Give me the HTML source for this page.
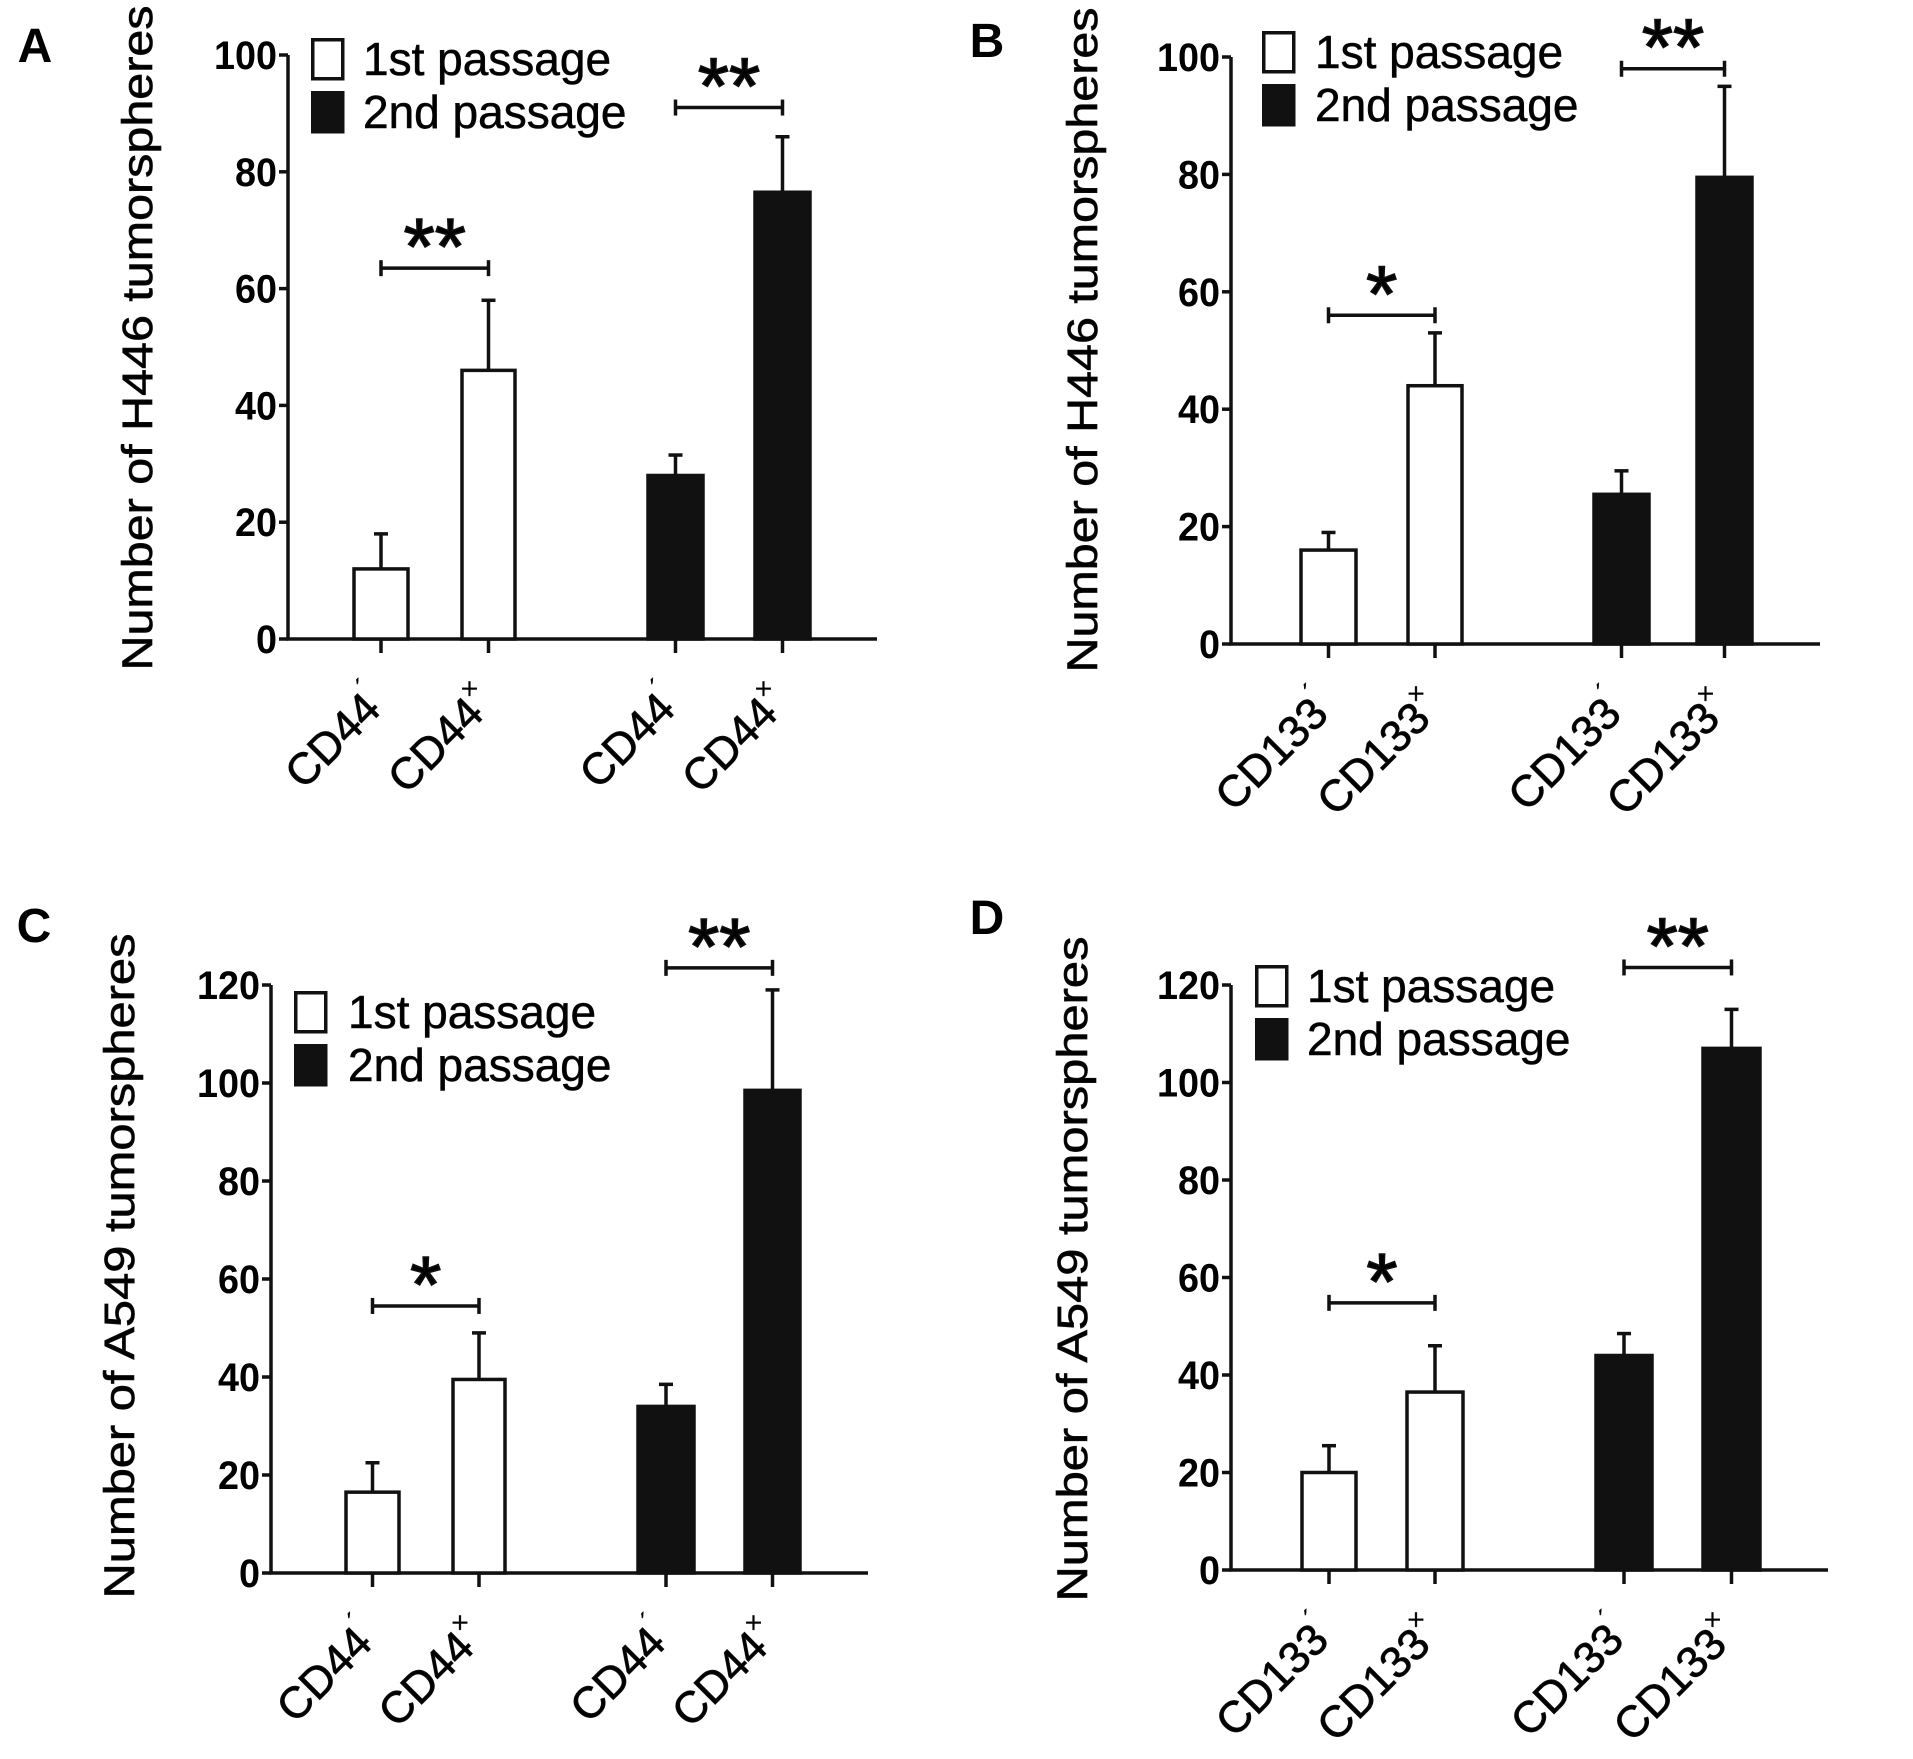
<!DOCTYPE html>
<html><head><meta charset="utf-8">
<style>
html,body{margin:0;padding:0;background:#fff;}
svg{display:block;font-family:"Liberation Sans",Arial,sans-serif;}
</style></head>
<body>
<svg id="fig" width="1913" height="1759" viewBox="0 0 1913 1759" xmlns="http://www.w3.org/2000/svg"></svg>
<script>
// ---- data ----
const categoriesCD44 = ["CD44", "CD44", "CD44", "CD44"];
const categoriesCD133 = ["CD133", "CD133", "CD133", "CD133"];
const signs = ["-", "+", "-", "+"];
const passage = [1, 1, 2, 2];
const valuesA = [12, 46, 28, 76.5];
const errorsA = [6, 12, 3.5, 9.5];
const valuesB = [16, 44, 25.5, 79.5];
const errorsB = [3, 9, 4, 15.5];
const valuesC = [16.5, 39.5, 34, 98.5];
const errorsC = [6, 9.5, 4.5, 20.5];
const valuesD = [20, 36.5, 44, 107];
const errorsD = [5.5, 9.5, 4.5, 8];
const ticksH446 = [0, 20, 40, 60, 80, 100];
const ticksA549 = [0, 20, 40, 60, 80, 100, 120];
const sigA = [{from:0,to:1,y:63.5,label:"**"},{from:2,to:3,y:91,label:"**"}];
const sigB = [{from:0,to:1,y:56,label:"*"},{from:2,to:3,y:98,label:"**"}];
const sigC = [{from:0,to:1,y:54.5,label:"*"},{from:2,to:3,y:123.5,label:"**"}];
const sigD = [{from:0,to:1,y:54.8,label:"*"},{from:2,to:3,y:123.6,label:"**"}];

const panels = [
 {id:"a",label:"A",title:"Number of H446 tumorspheres",cats:categoriesCD44,vals:valuesA,errs:errorsA,ticks:ticksH446,sig:sigA,
  ax:288,y0:639,ymax:100,ytop:55,xend:877,bars:[[354,408],[462,515],[648,703],[755,810]],
  lx:311,ly:38,tx:363,titleX:138,titleY:338,labX:35,labY:45},
 {id:"b",label:"B",title:"Number of H446 tumorspheres",cats:categoriesCD133,vals:valuesB,errs:errorsB,ticks:ticksH446,sig:sigB,
  ax:1231,y0:644,ymax:100,ytop:57,xend:1820,bars:[[1301,1356],[1408,1462],[1594,1649],[1697,1752]],
  lx:1262,ly:31,tx:1315,titleX:1083,titleY:340,labX:987,labY:40},
 {id:"c",label:"C",title:"Number of A549 tumorspheres",cats:categoriesCD44,vals:valuesC,errs:errorsC,ticks:ticksA549,sig:sigC,
  ax:271,y0:1573,ymax:120,ytop:985,xend:868,bars:[[346,399],[453,505],[638,694],[745,800]],
  lx:294,ly:991,tx:348,titleX:120,titleY:1266,labX:34,labY:925},
 {id:"d",label:"D",title:"Number of A549 tumorspheres",cats:categoriesCD133,vals:valuesD,errs:errorsD,ticks:ticksA549,sig:sigD,
  ax:1231,y0:1570,ymax:120,ytop:985,xend:1828,bars:[[1302,1356],[1407,1463],[1596,1652],[1703,1760]],
  lx:1255,ly:965,tx:1307,titleX:1073,titleY:1269,labX:987,labY:917}
];

const NS = "http://www.w3.org/2000/svg";
const svg = document.getElementById("fig");
function mk(tag, attrs, parent){
  const e = document.createElementNS(NS, tag);
  for (const k in attrs) e.setAttribute(k, attrs[k]);
  (parent||svg).appendChild(e);
  return e;
}
const SW = 3.5;

panels.forEach(p => {
  const g = mk("g", {});
  
  
  const yS = v => p.y0 - (v / p.ymax) * (p.y0 - p.ytop);
  const xC = i => (p.bars[i][0] + p.bars[i][1]) / 2;

  const pl = mk("text", {x:p.labX, y:p.labY+17, "font-size":48, "font-weight":"bold", "text-anchor":"middle"}, g);
  pl.textContent = p.label;
  
  

  const yt = mk("text", {x:p.titleX, y:p.titleY, "font-size":43, "text-anchor":"middle", "dominant-baseline":"central",
     stroke:"#111", "stroke-width":0.7,
     transform:`rotate(-90 ${p.titleX} ${p.titleY})`, textLength:665, lengthAdjust:"spacingAndGlyphs"}, g);
  yt.textContent = p.title;
  
  

  const yax = mk("line", {x1:p.ax, y1:yS(p.ymax), x2:p.ax, y2:p.y0, stroke:"#111", "stroke-width":SW}, g);
  
  
  const xax = mk("line", {x1:p.ax - SW/2, y1:p.y0, x2:p.xend, y2:p.y0, stroke:"#111", "stroke-width":SW}, g);
  
  

  p.ticks.forEach(t => {
    const y = yS(t);
    const tl = mk("line", {x1:p.ax-9, y1:y, x2:p.ax, y2:y, stroke:"#111", "stroke-width":SW}, g);
    
    
    const tt = mk("text", {x:p.ax-11, y:y+14, "font-size":40, "font-weight":"bold", "text-anchor":"end",
      textLength: String(t).length*21, lengthAdjust:"spacingAndGlyphs"}, g);
    tt.textContent = String(t);
    
    
  });

  p.vals.forEach((v, i) => {
    const [x0, x1] = p.bars[i];
    const top = yS(v);
    const errTop = yS(v + p.errs[i]);
    const c = xC(i);
    const el = mk("line", {x1:c, y1:top, x2:c, y2:errTop, stroke:"#111", "stroke-width":SW}, g);
    
    
    const cap = mk("line", {x1:c-7, y1:errTop, x2:c+7, y2:errTop, stroke:"#111", "stroke-width":SW}, g);
    
    
    const r = mk("rect", {x:x0, y:top, width:x1-x0, height:p.y0-top,
       fill: passage[i]===1 ? "#fff" : "#111", stroke:"#111", "stroke-width":SW}, g);
    
    
    const xt = mk("line", {x1:c, y1:p.y0, x2:c, y2:p.y0+14, stroke:"#111", "stroke-width":SW}, g);
    
    
    const lx = c + 8, ly = p.y0 + 66;
    const lab = mk("text", {x:lx, y:ly, "font-size":44, "text-anchor":"end", stroke:"#111", "stroke-width":0.8,
       transform:`rotate(-45 ${lx} ${ly})`}, g);
    
    
    const t1 = mk("tspan", {}, lab); t1.textContent = p.cats[i];
    const t2 = mk("tspan", {"font-size":26, dy:-22, "stroke-width":0.4}, lab); t2.textContent = signs[i]==='+' ? '\u00d7' : '\u00b4';
  });

  p.sig.forEach(s => {
    const y = yS(s.y);
    const xa = xC(s.from), xb = xC(s.to);
    const bg = mk("g", {}, g);
    
    
    mk("line", {x1:xa, y1:y, x2:xb, y2:y, stroke:"#111", "stroke-width":SW}, bg);
    mk("line", {x1:xa, y1:y-8, x2:xa, y2:y+8, stroke:"#111", "stroke-width":SW}, bg);
    mk("line", {x1:xb, y1:y-8, x2:xb, y2:y+8, stroke:"#111", "stroke-width":SW}, bg);
    const st = mk("text", {x:(xa+xb)/2, y:y+6, "font-size":80, "text-anchor":"middle", stroke:"#111", "stroke-width":1.5}, bg);
    st.textContent = s.label;
    
    
  });

  const lg = mk("g", {}, g);
  
  
  [["1st passage","#fff"],["2nd passage","#111"]].forEach((L, k) => {
    const by = p.ly + k*53;
    const box = mk("rect", {x:p.lx+1.75, y:by+1.75, width:30, height:39, fill:L[1], stroke:"#111", "stroke-width":SW}, lg);
    
    
    const lt = mk("text", {x:p.tx, y:by+37, "font-size":46, stroke:"#111", "stroke-width":0.6}, lg);
    lt.textContent = L[0];
    
    
  });
});
</script>
</body></html>
